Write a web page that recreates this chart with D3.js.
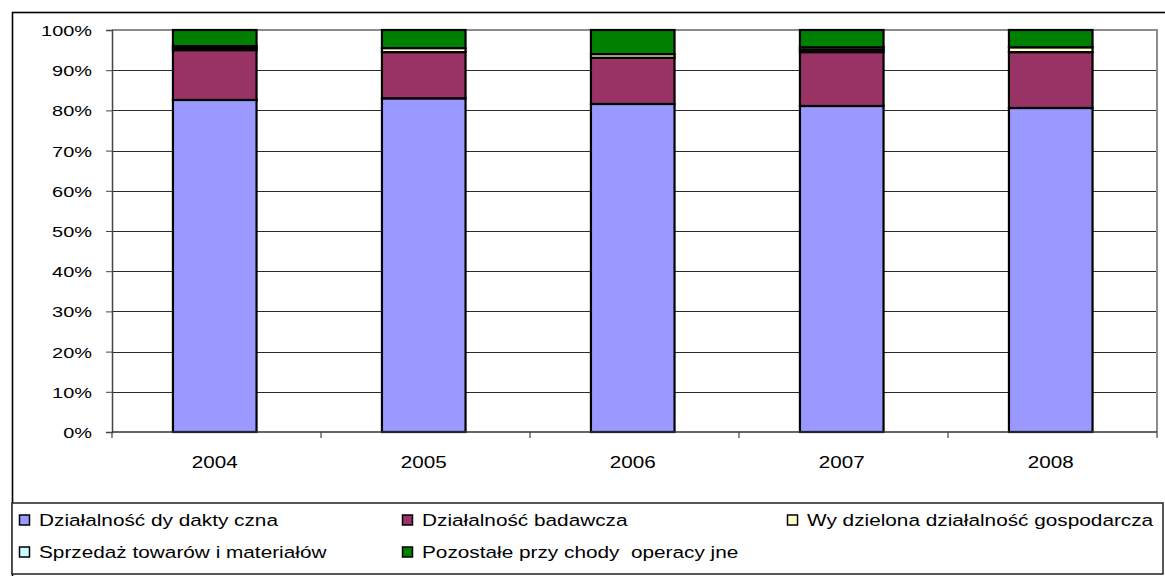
<!DOCTYPE html>
<html>
<head>
<meta charset="utf-8">
<script src="https://cdn.jsdelivr.net/npm/d3@7/dist/d3.min.js"></script>
<style>
  html, body { margin: 0; padding: 0; background: #fff; }
  svg { display: block; }
  text { font-family: "Liberation Sans", Arial, sans-serif; fill: #000; white-space: pre; }
</style>
</head>
<body>
<svg id="chart" width="1165" height="576"></svg>
<script>
// Revenue structure by source, share of total (%)
const years = ["2004", "2005", "2006", "2007", "2008"];
const seriesNames = [
  "Działalność dy dakty czna",
  "Działalność badawcza",
  "Wy dzielona działalność gospodarcza",
  "Sprzedaż towarów i materiałów",
  "Pozostałe przy chody  operacy jne"
];
const seriesColors = ["#9999FF", "#993366", "#FFFFCC", "#CCFFFF", "#008000"];
const dydaktyczna   = [82.6, 83.0, 81.6, 81.1, 80.6];
const badawcza      = [12.4, 11.5, 11.5, 13.4, 13.9];
const wydzielona    = [0.5, 1.0, 0.9, 0.6, 1.2];
const sprzedaz      = [0.5, 0.0, 0.0, 0.6, 0.0];
const pozostale     = [4.0, 4.5, 6.0, 4.3, 4.3];
const yTicks = [0, 10, 20, 30, 40, 50, 60, 70, 80, 90, 100];

const seriesValues = [dydaktyczna, badawcza, wydzielona, sprzedaz, pozostale];
const keys = seriesNames;
const rows = years.map((yr, i) => {
  const r = { year: yr };
  keys.forEach((k, j) => { r[k] = seriesValues[j][i]; });
  return r;
});
// normalise each year to 100%
const stacked = d3.stack().keys(keys).offset(d3.stackOffsetExpand)(rows);

const svg = d3.select("#chart");
const plotL = 112, plotR = 1157, plotT = 30, plotB = 432;

const x = d3.scaleBand().domain(years).range([plotL, plotR])
  .paddingInner(0.6).paddingOuter(0.3).align(0.486);
const y = d3.scaleLinear().domain([0, 1]).range([plotB, plotT]);

// outer frame
svg.append("rect").attr("x", 12.5).attr("y", 12.5).attr("width", 1160).attr("height", 570)
  .attr("fill", "none").attr("stroke", "#000").attr("stroke-width", 1.6);

// gridlines
svg.append("g").selectAll("line").data(yTicks.filter(t => t > 0 && t < 100)).join("line")
  .attr("x1", plotL).attr("x2", plotR)
  .attr("y1", d => Math.round(y(d / 100)) + 0.5).attr("y2", d => Math.round(y(d / 100)) + 0.5)
  .attr("stroke", "#2a2a2a").attr("stroke-width", 1.1);

// plot border (top / right)
svg.append("path")
  .attr("d", `M${plotL},${plotT}H${plotR}V${plotB}`)
  .attr("fill", "none").attr("stroke", "#8c8c8c").attr("stroke-width", 2);

// bars
const layer = svg.append("g").selectAll("g").data(stacked).join("g")
  .attr("fill", (d, i) => seriesColors[i]);
layer.selectAll("rect").data(d => d).join("rect")
  .attr("x", d => x(d.data.year))
  .attr("width", x.bandwidth())
  .attr("y", d => y(d[1]))
  .attr("height", d => Math.max(0, y(d[0]) - y(d[1])))
  .attr("stroke", "#000").attr("stroke-width", 2.2)
  .attr("display", d => (d[1] - d[0]) > 0 ? null : "none");

// y axis
const yAxis = d3.axisLeft(y).tickValues(yTicks.map(t => t / 100)).tickSize(6)
  .tickFormat(d => Math.round(d * 100) + "%");
const gy = svg.append("g").attr("transform", `translate(${plotL},0)`).call(yAxis);
gy.select(".domain").attr("stroke", "#444").attr("stroke-width", 1.5);
gy.selectAll(".tick line").attr("stroke", "#444");
gy.selectAll(".tick text")
  .attr("font-size", 15).attr("font-family", "Liberation Sans, Arial, sans-serif")
  .attr("x", 0).attr("dy", "0.36em")
  .attr("transform", "translate(-20,0) scale(1.33,1)");

// x axis with ticks at category boundaries
const xAxisG = svg.append("g");
xAxisG.append("line").attr("x1", plotL).attr("x2", plotR).attr("y1", plotB).attr("y2", plotB)
  .attr("stroke", "#333").attr("stroke-width", 1.5);
const bounds = d3.range(years.length + 1).map(i => plotL + i * x.step());
xAxisG.selectAll("line.tk").data(bounds).join("line").attr("class", "tk")
  .attr("x1", d => d).attr("x2", d => d).attr("y1", plotB).attr("y2", plotB + 6)
  .attr("stroke", "#444").attr("stroke-width", 1.2);
xAxisG.selectAll("text").data(years).join("text")
  .attr("transform", d => `translate(${x(d) + x.bandwidth() / 2},462) scale(1.29,1)`)
  .attr("text-anchor", "middle").attr("dy", "0.36em").attr("font-size", 16)
  .text(d => d);

// legend
const lg = svg.append("g");
lg.append("rect").attr("x", 12).attr("y", 503).attr("width", 1151).attr("height", 71)
  .attr("fill", "#fff").attr("stroke", "#222").attr("stroke-width", 1.5);
const legendPos = [
  [19, 520], [402, 520], [787, 520],
  [19, 552], [402, 552]
];
const items = lg.selectAll("g.item").data(seriesNames).join("g").attr("class", "item")
  .attr("transform", (d, i) => `translate(${legendPos[i][0]},${legendPos[i][1]})`);
items.append("rect").attr("x", 0.5).attr("y", -5).attr("width", 10).attr("height", 10)
  .attr("fill", (d, i) => seriesColors[i]).attr("stroke", "#000").attr("stroke-width", 1.5);
items.append("text").attr("transform", "translate(20,0) scale(1.26,1)")
  .attr("dy", "0.36em").attr("font-size", 16.5).text(d => d);
</script>
</body>
</html>
